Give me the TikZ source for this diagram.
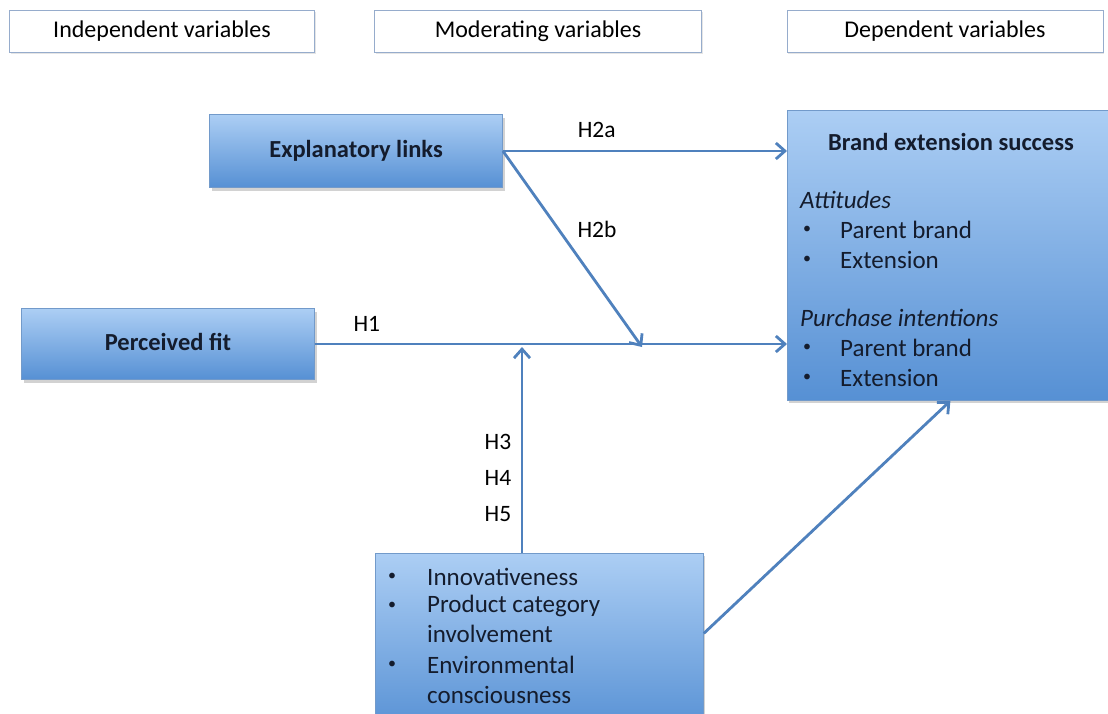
\documentclass[tikz,border=0pt]{standalone}
\usepackage{fontspec}
\setmainfont{Carlito}
\usetikzlibrary{arrows.meta,positioning,shadows}
\definecolor{linkblue}{RGB}{79,129,189}
\definecolor{boxtop}{RGB}{172,206,244}
\definecolor{boxbot}{RGB}{86,144,212}
\definecolor{headline}{RGB}{150,172,204}
\definecolor{inktext}{RGB}{20,28,45}
\tikzset{varbox/.style={rectangle,draw=linkblue!80,line width=0.8pt,top color=boxtop,bottom color=boxbot,drop shadow={shadow xshift=2pt,shadow yshift=-3pt,opacity=0.35},text=inktext,font=\fontsize{24.5}{29}\selectfont\bfseries}}
\tikzset{headbox/.style={rectangle,draw=headline,fill=white,line width=0.8pt,minimum height=42pt,drop shadow={shadow xshift=1pt,shadow yshift=-2pt,opacity=0.2},font=\fontsize{24}{29}\selectfont}}
\tikzset{item/.style={anchor=west,inner sep=0pt,text=inktext,font=\fontsize{25}{30}\selectfont}}
\tikzset{dot/.style={inner sep=0pt,text=inktext,font=\fontsize{16}{18}\selectfont}}
\tikzset{hyp/.style={inner sep=0pt,font=\fontsize{23.5}{28}\selectfont}}
\tikzset{>={Straight Barb[length=9pt,width=16pt]},link/.style={->,draw=linkblue,line width=2.8pt}}

\begin{document}
\begin{tikzpicture}[x=1pt,y=-1pt]
        \useasboundingbox[fill=white] (0,0) rectangle (1108,713);

        % column headings
        \node[headbox,minimum width=305pt] (indep) at (162,31) {Independent variables};
        \node[headbox,minimum width=327pt] (moder) at (538,31) {Moderating variables};
        \node[headbox,minimum width=316pt] (dep) at (945,31) {Dependent variables};

        % variable boxes
        \node[varbox,minimum width=293pt,minimum height=73pt] (expl) at (356,151) {\raisebox{5pt}{Explanatory links}};
        \node[varbox,minimum width=293pt,minimum height=71pt] (fit) at (168,344) {\raisebox{4pt}{Perceived fit}};
        \node[varbox,anchor=north west,minimum width=340pt,minimum height=290pt] (brand) at (787,110) {};
        \node[varbox,anchor=north west,minimum width=328pt,minimum height=180pt] (mods) at (375,553) {};

        % contents of the dependent box
        \node[item,anchor=center,font=\fontsize{24.5}{29}\selectfont\bfseries] (brandtitle) at (951,142) {Brand extension success};
        \node[item,font=\fontsize{25}{30}\selectfont\itshape] (att) at (800,200) {Attitudes};
        \node[dot] (attb1) at (807,230) {•};
        \node[item] (attp) at (840,230) {Parent brand};
        \node[dot] (attb2) at (807,260) {•};
        \node[item] (atte) at (840,260) {Extension};
        \node[item,font=\fontsize{25}{30}\selectfont\itshape] (pur) at (800,318) {Purchase intentions};
        \node[dot] (purb1) at (807,348) {•};
        \node[item] (purp) at (840,348) {Parent brand};
        \node[dot] (purb2) at (807,378) {•};
        \node[item] (pure) at (840,378) {Extension};

        % contents of the moderator box
        \node[dot] (modb1) at (392,577) {•};
        \node[item] (innov) at (427,577) {Innovativeness};
        \node[dot] (modb2) at (392,606) {•};
        \node[item] (prod) at (427,606) {Product category};
        \node[item] (invol) at (427,634) {involvement};
        \node[dot] (modb3) at (392,665) {•};
        \node[item] (env) at (427,665) {Environmental};
        \node[item] (cons) at (427,695) {consciousness};

        % links
        \coordinate (meet) at (642,347);
        \coordinate (modtip) at (522,347);
        \draw[link] (expl.east) -- (expl.east -| brand.west) node[hyp,pos=0.33,above=12pt] {H2a};
        \draw[link] (expl.east) -- (meet);
        \node[hyp] (h2b) at (597,229) {H2b};
        \draw[link] (fit.east) -- (fit.east -| brand.west) node[hyp,pos=0.11,above=11pt] {H1};
        \draw[link] (modtip |- mods.north) -- (modtip);
        \node[hyp] (h3) at (498,442) {H3};
        \node[hyp] (h4) at (498,478) {H4};
        \node[hyp] (h5) at (498,514) {H5};
        \draw[link] ([yshift=10pt]mods.east) -- ([xshift=-7pt]brand.south);
    \end{tikzpicture}
\end{document}
